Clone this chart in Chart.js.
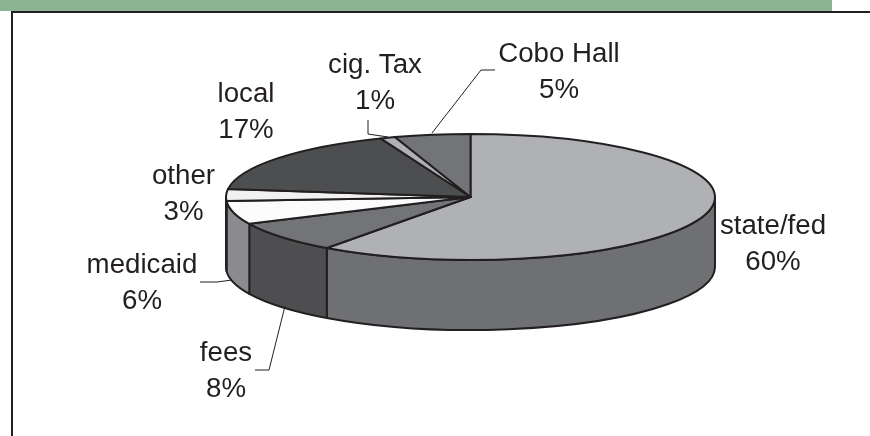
<!DOCTYPE html>
<html>
<head>
<meta charset="utf-8">
<title>Budget sources</title>
<script src="https://cdn.jsdelivr.net/npm/chart.js@4/dist/chart.umd.js"></script>
<style>
  html, body { margin: 0; padding: 0; background: #fff; overflow: hidden; }
  canvas { display: block; }
</style>
</head>
<body>
<canvas id="pie_chart" width="870" height="436"></canvas>
<script>
// values, clockwise from 12 o'clock
const categories = ['state/fed', 'fees', 'medicaid', 'other', 'local', 'cig. Tax', 'Cobo Hall'];
const values = [60, 8, 6, 3, 17, 1, 5];

const top_colors = ['#b0b1b4', '#737477', '#fbfbfb', '#f1f1f1', '#4d4e50', '#b0b1b4', '#737477'];
const side_colors = ['#6f7073', '#4e4e50', '#8a8b8e', '#8a8b8e', '#333436', '#6f7073', '#4e4e50'];

// label anchors: centre x, first baseline y
const label_pos = [[773, 233.5], [226, 361], [142, 272.5], [183.5, 184], [246, 102], [375, 72.5], [559, 62]];
const leader_lines = [
  [[255, 370], [269, 370], [285, 306]],
  [[200, 282], [217, 282], [232, 280]],
  [[368, 120], [368, 134], [388, 137]],
  [[495, 70], [481, 70], [432, 133]]
];

const INK = '#231f20';
const TILT_X = 1.241, TILT_Y = 0.32, DEPTH = 70;
const TEXT_STRETCH = 1.025;

function drawFrame(ctx) {
  ctx.fillStyle = '#8cb38f';
  ctx.fillRect(0, 0, 832, 11);
  ctx.fillStyle = INK;
  ctx.fillRect(11, 11, 859, 2);
  ctx.fillRect(11, 11, 2, 425);
}

function drawSide(ctx, arc, color) {
  // only the front half of the rim shows
  const a = Math.max(arc.startAngle, 0), b = Math.min(arc.endAngle, Math.PI);
  if (b <= a) return;
  const rx = arc.outerRadius * TILT_X, ry = arc.outerRadius * TILT_Y;
  ctx.beginPath();
  ctx.ellipse(arc.x, arc.y, rx, ry, 0, a, b);
  ctx.ellipse(arc.x, arc.y + DEPTH, rx, ry, 0, b, a, true);
  ctx.closePath();
  ctx.fillStyle = color;
  ctx.fill();
  ctx.stroke();
}

function drawTop(ctx, arc, color) {
  const rx = arc.outerRadius * TILT_X, ry = arc.outerRadius * TILT_Y;
  ctx.beginPath();
  ctx.moveTo(arc.x, arc.y);
  ctx.ellipse(arc.x, arc.y, rx, ry, 0, arc.startAngle, arc.endAngle);
  ctx.closePath();
  ctx.fillStyle = color;
  ctx.fill();
  ctx.stroke();
}

function drawLabel(ctx, text, x, y) {
  // the reference type is a little wider than Liberation Sans
  ctx.save();
  ctx.translate(x, y);
  ctx.scale(TEXT_STRETCH, 1);
  ctx.fillText(text, 0, 0);
  ctx.restore();
}

const tiltedPie = {
  id: 'tiltedPie',
  beforeDraw(chart) {
    drawFrame(chart.ctx);
  },
  beforeDatasetsDraw(chart) {
    const ctx = chart.ctx;
    const arcs = chart.getDatasetMeta(0).data;
    ctx.save();
    ctx.strokeStyle = INK;
    ctx.lineWidth = 2;
    ctx.lineJoin = 'round';
    arcs.forEach((arc, i) => drawSide(ctx, arc, side_colors[i]));
    arcs.forEach((arc, i) => drawTop(ctx, arc, top_colors[i]));
    ctx.restore();
    return false;
  },
  afterDraw(chart) {
    const ctx = chart.ctx;
    ctx.save();
    ctx.strokeStyle = INK;
    ctx.lineWidth = 1;
    leader_lines.forEach(line => {
      ctx.beginPath();
      line.forEach((p, i) => i ? ctx.lineTo(p[0], p[1]) : ctx.moveTo(p[0], p[1]));
      ctx.stroke();
    });
    ctx.fillStyle = INK;
    ctx.font = '27px "Liberation Sans", Arial, sans-serif';
    ctx.textAlign = 'center';
    ctx.textBaseline = 'alphabetic';
    categories.forEach((name, i) => {
      drawLabel(ctx, name, label_pos[i][0], label_pos[i][1]);
      drawLabel(ctx, values[i] + '%', label_pos[i][0], label_pos[i][1] + 36);
    });
    ctx.restore();
  }
};

new Chart(document.getElementById('pie_chart').getContext('2d'), {
  type: 'pie',
  data: {
    labels: categories,
    datasets: [{
      data: values,
      backgroundColor: top_colors,
      borderWidth: 0
    }]
  },
  options: {
    responsive: false,
    animation: false,
    layout: { padding: { left: 71, bottom: 42 } },
    plugins: {
      legend: { display: false },
      title: { display: false },
      tooltip: { enabled: false }
    }
  },
  plugins: [tiltedPie]
});
</script>
</body>
</html>
